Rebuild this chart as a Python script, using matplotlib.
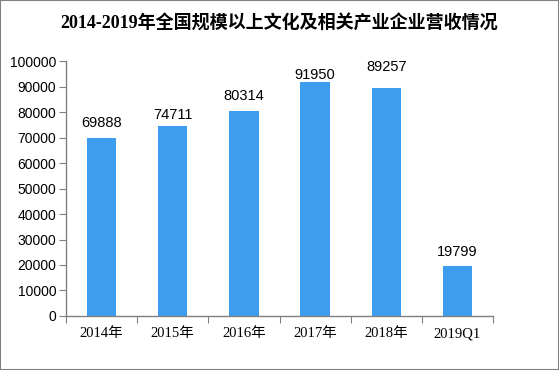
import matplotlib
matplotlib.use("Agg")
import matplotlib.pyplot as plt
from matplotlib.patches import Rectangle

categories = ["2014年", "2015年", "2016年", "2017年", "2018年", "2019Q1"]
values = [69888, 74711, 80314, 91950, 89257, 19799]
yticks = [0, 10000, 20000, 30000, 40000, 50000, 60000, 70000, 80000, 90000, 100000]
title = "2014-2019年全国规模以上文化及相关产业企业营收情况"

# label placement above each bar (layout, in data units)
label_offsets = [4200, 2600, 4400, 1000, 6800, 3700]

fig = plt.figure(figsize=(5.59, 3.70), dpi=100)
fig.patches.append(Rectangle((0, 0), 1, 1, transform=fig.transFigure,
                             fill=False, edgecolor="#808080", linewidth=1.5))
ax = fig.add_axes([0.118, 0.146, 0.764, 0.689])

x = list(range(len(categories)))
ax.bar(x, values, width=0.41, color="#3d9ef0", zorder=2)
for xi, v, off in zip(x, values, label_offsets):
    ax.text(xi, v + off, str(v), ha="center", va="baseline", fontsize=10.5,
            family=["Liberation Sans", "DejaVu Sans"])

ax.set_xlim(-0.5, len(categories) - 0.5)
ax.set_ylim(0, 100000)
ax.set_yticks(yticks)
ax.set_yticklabels([str(t) for t in yticks], fontsize=10, family=["Liberation Sans", "DejaVu Sans"])
ax.set_xticks([i - 0.5 for i in range(len(categories) + 1)])
ax.set_xticklabels([])
ax.set_xticks(x, minor=True)
ax.set_xticklabels(categories, minor=True, fontsize=10.5,
                   family=["Liberation Serif", "Noto Sans CJK SC"])
ax.tick_params(axis="x", which="minor", length=0, pad=8)
ax.tick_params(axis="x", which="major", length=5, color="#808080", direction="out")
ax.tick_params(axis="y", length=5, color="#808080", direction="out", pad=2)

for s in ["top", "right"]:
    ax.spines[s].set_visible(False)
for s in ["left", "bottom"]:
    ax.spines[s].set_color("#808080")
    ax.spines[s].set_linewidth(1)

fig.text(0.5, 0.935, title, ha="center", va="center", fontsize=13, fontweight="bold",
         family=["Liberation Serif", "Noto Sans CJK SC"])

fig.savefig("out.png", dpi=100)
